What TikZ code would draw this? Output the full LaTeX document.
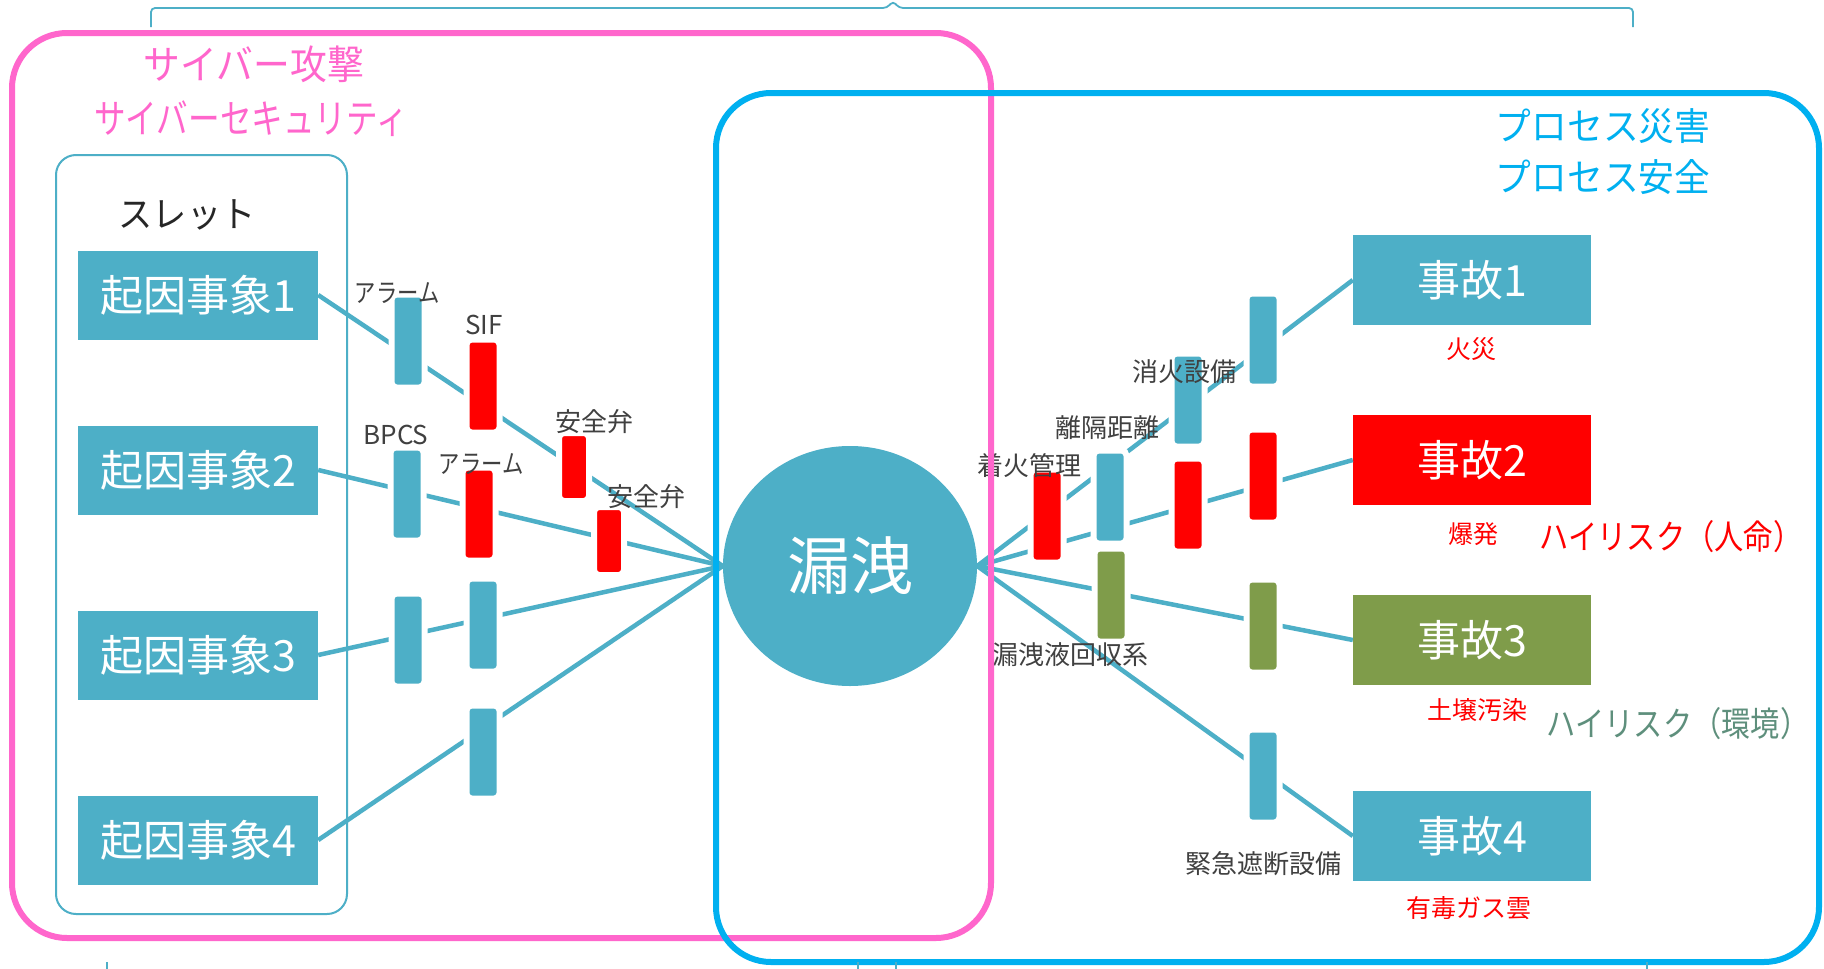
\documentclass[tikz,border=0pt]{standalone}
\usepackage{fontspec}
\setmainfont{Noto Sans CJK JP}
\usetikzlibrary{shapes.geometric}
\definecolor{teal1}{RGB}{77,175,199}
\definecolor{grn}{RGB}{127,156,74}
\definecolor{pinkc}{RGB}{255,102,204}
\definecolor{bluec}{RGB}{0,176,240}
\definecolor{lbl}{RGB}{64,64,64}
\definecolor{envc}{RGB}{94,143,124}
\newcommand{\fs}[1]{\fontsize{#1}{#1}\selectfont}
\begin{document}
\begin{tikzpicture}[x=1pt,y=-1pt,
 conn/.style={draw=teal1,line width=4.5},
 evbox/.style={fill=teal1,text=white,minimum width=240,minimum height=89,inner sep=0,font=\fs{43}},
 incbox/.style={minimum width=238,minimum height=90,inner sep=0,text=white,font=\fs{43}},
 bar/.style={draw=white,line width=6,rounded corners=5,minimum width=33,minimum height=93,inner sep=0},
 sbar/.style={bar,minimum width=30,minimum height=68},
 lab/.style={text=lbl,font=\fs{26},inner sep=0},
 rlab/.style={text=red,font=\fs{25},inner sep=0},
 title/.style={font=\fs{40},inner sep=0},
 risk/.style={font=\fs{34},inner sep=0},
]
\useasboundingbox (0,0) rectangle (1824,969);
\fill[white] (0,0) rectangle (1824,969);

% boxes
\node[evbox] (ev1) at (198,295) {起因事象1};
\node[evbox] (ev2) at (198,470) {起因事象2};
\node[evbox] (ev3) at (198,655) {起因事象3};
\node[evbox] (ev4) at (198,840) {起因事象4};

\node[incbox,fill=teal1] (inc1) at (1472,280) {事故1};
\node[incbox,fill=red] (inc2) at (1472,460) {事故2};
\node[incbox,fill=grn] (inc3) at (1472,640) {事故3};
\node[incbox,fill=teal1] (inc4) at (1472,836) {事故4};

\node[ellipse,fill=teal1,minimum width=254,minimum height=240,inner sep=0,text=white,font=\fs{63}] (leak) at (850,566) {漏洩};

% connectors
\draw[conn] (ev1.east) -- (leak.west);
\draw[conn] (ev2.east) -- (leak.west);
\draw[conn] (ev3.east) -- (leak.west);
\draw[conn] (ev4.east) -- (leak.west);
\draw[conn] (leak.east) -- (inc1.west);
\draw[conn] (leak.east) -- (inc2.west);
\draw[conn] (leak.east) -- (inc3.west);
\draw[conn] (leak.east) -- (inc4.west);

% barriers left
\node[bar,fill=teal1] (b11) at (408,341) {};
\node[bar,fill=red] (b12) at (483,386) {};
\node[sbar,fill=red] (b13) at (574,467) {};
\node[bar,fill=teal1] (b21) at (407,494) {};
\node[bar,fill=red] (b22) at (479,514) {};
\node[sbar,fill=red] (b23) at (609,541) {};
\node[bar,fill=teal1] (b31) at (408,640) {};
\node[bar,fill=teal1] (b32) at (483,625) {};
\node[bar,fill=teal1] (b41) at (483,752) {};

% barriers right
\node[bar,fill=red] (r11) at (1047,516) {};
\node[bar,fill=teal1] (r12) at (1110,497) {};
\node[bar,fill=grn] (r13) at (1111,595) {};
\node[bar,fill=teal1] (r21) at (1188,400) {};
\node[bar,fill=red] (r22) at (1188,505) {};
\node[bar,fill=teal1] (r31) at (1263,340) {};
\node[bar,fill=red] (r32) at (1263,476) {};
\node[bar,fill=grn] (r33) at (1263,626) {};
\node[bar,fill=teal1] (r34) at (1263,776) {};

% barrier labels
\node[lab] (l1) at (397,293) {\scalebox{0.82}[1]{アラーム}};
\node[lab] (l2) at (484,325) {SIF};
\node[lab] (l3) at (594,422) {安全弁};
\node[lab] (l4) at (396,435) {BPCS};
\node[lab] (l5) at (481,464) {\scalebox{0.82}[1]{アラーム}};
\node[lab] (l6) at (646,497) {安全弁};
\node[lab] (l7) at (1029,466) {着火管理};
\node[lab] (l8) at (1107,428) {離隔距離};
\node[lab] (l9) at (1184,372) {消火設備};
\node[lab] (l10) at (1070,655) {漏洩液回収系};
\node[lab] (l11) at (1263,864) {緊急遮断設備};

% consequence labels
\node[rlab] (f1) at (1471,349) {火災};
\node[rlab] (f2) at (1473,534) {爆発};
\node[rlab] (f3) at (1477,710) {土壌汚染};
\node[rlab] (f4) at (1469,908) {有毒ガス雲};

\node[risk,text=red] (hr1) at (1671,537) {\scalebox{0.86}[1]{ハイリスク（人命）}};
\node[risk,text=envc] (hr2) at (1678,724) {\scalebox{0.86}[1]{ハイリスク（環境）}};

% titles
\node[title,text=pinkc] (t1) at (254,64) {\scalebox{0.92}[1]{サイバー攻撃}};
\node[title,text=pinkc] (t2) at (251,119) {\scalebox{0.79}[1]{サイバーセキュリティ}};
\node[title,text=bluec,font=\fs{38}] (t3) at (1603,126) {\scalebox{0.94}[1]{プロセス災害}};
\node[title,text=bluec,font=\fs{38}] (t4) at (1603,177) {\scalebox{0.94}[1]{プロセス安全}};
\node[text=black!85,font=\fs{36},inner sep=0] (thr) at (187,215) {\scalebox{0.95}[1]{スレット}};

% frames
\draw[teal1,line width=2,rounded corners=20] (56,155) rectangle (347,914);
\draw[pinkc,line width=6,rounded corners=55] (12,33) rectangle (991,938);
\draw[bluec,line width=6,rounded corners=55] (716,93) rectangle (1819,962);

% braces
\draw[teal1,line width=1.8,rounded corners=4] (151,27) -- (151,8) -- (887,8) -- (893,1) -- (899,8) -- (1633,8) -- (1633,27);
\draw[teal1,line width=1.5] (107,962) -- (107,969);
\draw[teal1,line width=1.5] (858,962) -- (858,969);
\draw[teal1,line width=1.5] (896,962) -- (896,969);
\draw[teal1,line width=1.5] (1647,962) -- (1647,969);
\end{tikzpicture}
\end{document}
